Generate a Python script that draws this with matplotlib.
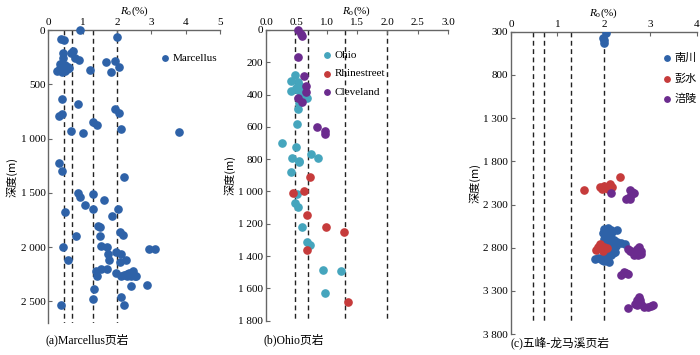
import matplotlib
matplotlib.use("Agg")
import matplotlib.pyplot as plt
from matplotlib.ticker import FuncFormatter

plt.rcParams["font.family"] = ["Liberation Serif", "Noto Sans CJK SC"]
plt.rcParams["mathtext.fontset"] = "custom"
plt.rcParams["mathtext.rm"] = "Liberation Serif"
plt.rcParams["mathtext.it"] = "Liberation Serif:italic"

# (a) Marcellus
marcellus_ro = [0.92, 0.36, 0.46, 1.99, 0.71, 0.66, 0.44, 0.44, 0.78, 0.89, 1.67, 1.94,
                0.34, 0.50, 0.58, 0.33, 0.26, 1.21, 1.82, 2.06, 0.45, 0.55, 0.40, 0.48,
                0.36, 0.60, 0.40, 0.87, 1.94, 2.06, 0.32, 0.40, 1.31, 1.42, 0.66, 1.00,
                2.13, 3.80, 0.31, 0.40, 2.21,
                0.88, 0.92, 1.31, 1.08, 1.63, 0.49, 1.31, 2.03, 1.86, 1.45, 1.50, 2.08,
                2.18, 0.81, 1.50, 1.55, 1.71, 0.44, 2.94, 3.12, 1.97, 2.13, 1.75, 1.77,
                0.56, 2.26, 2.09, 1.55, 1.71, 1.39, 1.41, 1.97, 2.13, 2.20, 2.28, 2.35,
                2.42, 2.47, 2.52, 2.57, 2.30, 2.40, 2.40, 2.89, 1.34, 1.29, 2.13, 0.36, 2.21]
marcellus_depth = [0, 77, 92, 64, 190, 215, 215, 255, 261, 276, 291, 282,
                   313, 322, 337, 353, 377, 365, 389, 337, 330, 360, 390, 380,
                   370, 345, 638, 678, 727, 764, 791, 776, 849, 877, 926, 951,
                   914, 938, 1227, 1300, 1349,
                   1503, 1540, 1512, 1614, 1564, 1677, 1650, 1650, 1714, 1803, 1815, 1861,
                   1886, 1901, 1901, 1990, 2002, 2002, 2015, 2015, 2049, 2064, 2064, 2116,
                   2122, 2116, 2141, 2202, 2202, 2223, 2263, 2239, 2263, 2255, 2245, 2239,
                   2245, 2223, 2263, 2263, 2263, 2263, 2361, 2352, 2386, 2475, 2460, 2536, 2536]

# (b) Ohio
ohio_ro = [0.48, 0.41, 0.52, 0.55, 0.57, 0.41, 0.52, 0.57, 0.49, 0.60, 0.67, 0.57, 0.55,
           0.53, 0.51, 0.27, 0.49, 0.74, 0.85, 0.43, 0.55, 0.55, 0.41, 0.51, 0.47, 0.52,
           0.60, 0.67, 0.73, 0.94, 1.24, 0.97]
ohio_depth = [281, 314, 320, 341, 355, 376, 371, 388, 361, 402, 419, 429, 454,
              491, 584, 702, 727, 768, 795, 795, 809, 819, 877, 1017, 1069, 1094,
              1222, 1313, 1333, 1483, 1490, 1626]
rhine_ro = [0.73, 0.45, 0.63, 0.67, 0.99, 1.28, 0.67, 1.35]
rhine_depth = [912, 1011, 995, 1146, 1222, 1249, 1364, 1684]
cleveland_ro = [0.52, 0.58, 0.60, 0.52, 0.63, 0.66, 0.66, 0.53, 0.60, 0.84, 0.97, 0.97]
cleveland_depth = [0, 27, 37, 165, 283, 347, 382, 423, 448, 600, 625, 644]

# (c) 五峰-龙马溪
nanchuan_ro = [2.05, 1.97, 2.01, 2.00,
               2.01, 2.08, 2.15, 2.18, 1.97, 2.04, 2.11, 2.29, 2.08, 2.15, 2.22, 2.29,
               2.37, 2.45, 2.18, 2.11, 2.25, 2.00, 2.05,
               1.80, 1.87, 1.94, 2.01, 2.08, 2.15, 2.20, 2.08, 2.11, 2.01, 2.24, 1.95, 2.15]
nanchuan_depth = [312, 377, 396, 435,
                  2585, 2576, 2595, 2615, 2630, 2645, 2640, 2595, 2673, 2692, 2711, 2730,
                  2742, 2755, 2765, 2742, 2775, 2700, 2720,
                  2935, 2925, 2915, 2904, 2890, 2865, 2860, 2950, 2970, 2955, 2850, 2945, 2890]
pengshui_ro = [2.35, 1.56, 1.92, 1.99, 2.06, 2.13, 2.17, 1.95, 2.09,
               1.92, 1.87, 1.82, 2.01, 2.06, 1.97]
pengshui_depth = [1985, 2132, 2100, 2080, 2110, 2065, 2100, 2120, 2117,
                  2762, 2790, 2827, 2790, 2808, 2835]
fuling_ro = [2.15, 2.56, 2.61, 2.64, 2.58, 2.51, 2.56, 2.48,
             2.51, 2.58, 2.66, 2.71, 2.76, 2.80, 2.73, 2.64, 2.55, 2.80,
             2.37, 2.42, 2.47, 2.52,
             2.52, 2.66, 2.72, 2.75, 2.77, 2.80, 2.86, 2.95, 3.02, 3.05, 2.70]
fuling_depth = [2163, 2132, 2150, 2163, 2190, 2228, 2240, 2240,
                2810, 2836, 2855, 2820, 2795, 2836, 2880, 2880, 2836, 2870,
                3116, 3078, 3095, 3110,
                3494, 3450, 3410, 3367, 3400, 3450, 3484, 3484, 3470, 3460, 3465]

ro_limits = [0.47, 0.7, 1.3, 2.0]

BLUE = "#2e62a8"
TEAL = "#45a5bd"
RED = "#c63b3b"
PURPLE = "#6b2b8e"
SPINE = "#666666"

fmt_thousands = FuncFormatter(lambda v, p: f"{int(v):,}".replace(",", " "))


def style_axis(ax, xlim, xticks, ylim, yticks, xfmt=None):
    ax.set_xlim(*xlim)
    ax.set_ylim(*ylim)
    ax.set_xticks(xticks)
    ax.set_yticks(yticks)
    ax.xaxis.tick_top()
    ax.xaxis.set_label_position("top")
    for s in ["bottom", "right"]:
        ax.spines[s].set_visible(False)
    for s in ["top", "left"]:
        ax.spines[s].set_color(SPINE)
        ax.spines[s].set_linewidth(1.0)
    ax.tick_params(direction="in", length=3, width=0.8, color=SPINE,
                   labelsize=8, pad=2)
    ax.yaxis.set_major_formatter(fmt_thousands)
    if xfmt:
        ax.xaxis.set_major_formatter(FuncFormatter(xfmt))
    ax.set_xlabel(r"$R_{\mathrm{o}}$(%)", fontsize=8, labelpad=3)
    ax.set_ylabel("深度(m)", fontsize=8, family=["Noto Sans CJK SC"], labelpad=2)


def dashed(ax, y0, y1):
    ax.vlines(ro_limits, y0, y1, colors="#222222", linestyles=(0, (3.5, 2.5)),
              linewidth=1.0, zorder=1)


fig = plt.figure(figsize=(7, 3.55), dpi=100)
ms = 27

# panel a
ax1 = fig.add_axes([0.069, 0.090, 0.245, 0.825])
dashed(ax1, 0, 2700)
ax1.scatter(marcellus_ro, marcellus_depth, s=ms, color=BLUE, label="Marcellus", zorder=3,
            clip_on=False)
style_axis(ax1, (0, 5), [0, 1, 2, 3, 4, 5], (2700, 0), [0, 500, 1000, 1500, 2000, 2500])
ax1.legend(loc="upper left", bbox_to_anchor=(0.22, 0.863), bbox_transform=fig.transFigure,
           frameon=False, fontsize=8, markerscale=0.75, handletextpad=0.1,
           borderaxespad=0, handlelength=1.2)

# panel b
ax2 = fig.add_axes([0.380, 0.0966, 0.26, 0.819])
dashed(ax2, 0, 1800)
ax2.scatter(ohio_ro, ohio_depth, s=ms, color=TEAL, label="Ohio", zorder=3, clip_on=False)
ax2.scatter(rhine_ro, rhine_depth, s=ms, color=RED, label="Rhinestreet", zorder=3,
            clip_on=False)
ax2.scatter(cleveland_ro, cleveland_depth, s=ms, color=PURPLE, label="Cleveland", zorder=3,
            clip_on=False)
style_axis(ax2, (0, 3), [0, 0.5, 1, 1.5, 2, 2.5, 3], (1800, 0),
           list(range(0, 1801, 200)), xfmt=lambda v, p: f"{v:.1f}")
ax2.legend(loc="upper left", bbox_to_anchor=(0.451, 0.87), bbox_transform=fig.transFigure,
           frameon=False, fontsize=8, markerscale=0.75, handletextpad=0.1,
           borderaxespad=0, handlelength=1.2, labelspacing=0.75)

# panel c
ax3 = fig.add_axes([0.730, 0.059, 0.2657, 0.8515])
dashed(ax3, 300, 3670)
ax3.scatter(nanchuan_ro, nanchuan_depth, s=ms, color=BLUE, label="南川", zorder=3)
ax3.scatter(pengshui_ro, pengshui_depth, s=ms, color=RED, label="彭水", zorder=3)
ax3.scatter(fuling_ro, fuling_depth, s=ms, color=PURPLE, label="涪陵", zorder=3)
style_axis(ax3, (0, 4), [0, 1, 2, 3, 4], (3800, 300), list(range(300, 3801, 500)))
ax3.legend(loc="upper left", bbox_to_anchor=(0.937, 0.865),
           bbox_transform=fig.transFigure, frameon=False,
           markerscale=0.75, handletextpad=0.1, borderaxespad=0,
           handlelength=1.2, labelspacing=0.95,
           prop={"family": ["Noto Sans CJK SC"], "size": 8})

# captions
cap = dict(fontsize=8.5, ha="center", va="center",
           family=["Liberation Serif", "Noto Sans CJK SC"])
fig.text(87 / 700, 1 - 340 / 355, "(a)Marcellus页岩", **cap)
fig.text(294 / 700, 1 - 340 / 355, "(b)Ohio页岩", **cap)
fig.text(560 / 700, 1 - 343 / 355, "(c)五峰-龙马溪页岩", **cap)

fig.savefig("out.png", dpi=100)
